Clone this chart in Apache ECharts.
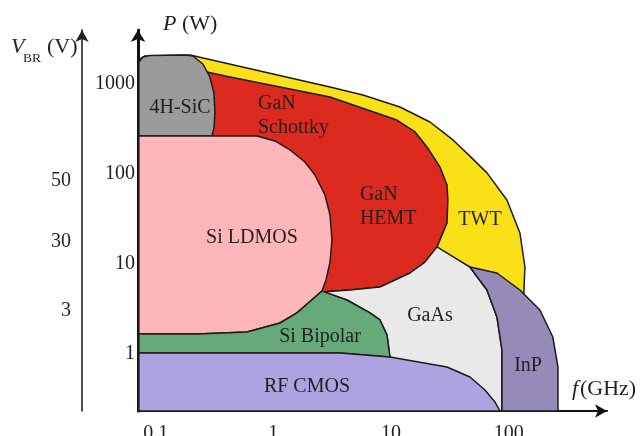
<!DOCTYPE html>
<html>
<head>
<meta charset="utf-8">
<script src="https://cdn.jsdelivr.net/npm/echarts@6/dist/echarts.min.js"></script>
<style>
  html, body { margin: 0; padding: 0; background: #fff; }
  #chart { width: 641px; height: 436px; }
</style>
</head>
<body>
<div id="chart"></div>
<script>
// tick labels
const fTicks = [0.1, 1, 10, 100]
const pTicks = [1, 10, 100, 1000]
const vbrTicks = ['50', '30', '3']
const vbrOnP = [84, 17.5, 3.0] // P value at which each V_BR tick sits

// region outlines, [f (GHz), P (W)]
const twt = [[0.081, 2047], [0.196, 2100], [0.77, 1393], [3.03, 926], [5.77, 755], [11.9, 555], [21.4, 378], [33.6, 239], [46.8, 158], [65.3, 103], [96.5, 51.4], [124.5, 22.1], [137.3, 9.26], [134.6, 5.14], [134.6, 0.2326], [0.072, 0.2326], [0.072, 1848]]
const gan = [[0.273, 1359], [0.428, 1196], [1.14, 926], [3.03, 717], [11.2, 398], [16.0, 293], [20.2, 200], [26.0, 120], [29.9, 75.5], [30.4, 51.4], [29.9, 28.6], [24.6, 15.5], [19.4, 10.5], [14.5, 7.94], [8.05, 5.55], [4.48, 5.14], [2.59, 4.89], [1.68, 14.3], [0.633, 143], [0.238, 239], [0.238, 1108]]
const gaas = [[2.59, 4.89], [4.48, 5.14], [8.05, 5.55], [14.5, 7.94], [19.4, 10.5], [24.6, 15.5], [34.9, 11.7], [46.8, 9.26], [65.3, 5.14], [79.4, 2.58], [87.6, 1.108], [87.6, 0.2326], [9.79, 0.2326], [9.79, 0.926], [9.23, 1.63], [8.05, 2.39], [6.62, 2.86], [4.22, 3.98]]
const inp = [[46.8, 9.26], [79.4, 7.94], [124.5, 5.14], [184, 3.08], [237, 1.545], [262, 0.717], [262, 0.2326], [87.6, 0.2326], [87.6, 1.108], [79.4, 2.58], [65.3, 5.14]]
const sic = [[0.072, 264], [0.072, 1756], [0.078, 1995], [0.0894, 2074], [0.1774, 2100], [0.207, 2047], [0.252, 1668], [0.289, 1196], [0.313, 794], [0.319, 476], [0.313, 324], [0.301, 264]]
const ldmos = [[0.072, 264], [0.7255, 264], [1.03, 233], [1.384, 185], [1.855, 136], [2.256, 97.5], [2.745, 58.4], [3.03, 35.0], [3.15, 18.5], [3.03, 10.5], [2.80, 6.64], [2.59, 5.01], [1.587, 2.86], [1.138, 2.21], [0.597, 1.76], [0.224, 1.67], [0.072, 1.67]]
const bipolar = [[0.072, 1.67], [0.224, 1.67], [0.597, 1.76], [1.138, 2.21], [1.587, 2.86], [2.59, 5.01], [4.22, 3.98], [6.62, 2.86], [8.05, 2.39], [9.23, 1.63], [9.79, 0.926], [3.68, 1.026], [0.072, 1.026]]
const cmos = [[0.072, 1.026], [3.68, 1.026], [9.79, 0.926], [29.9, 0.717], [46.8, 0.555], [62.8, 0.398], [76.3, 0.293], [84.2, 0.2326], [0.072, 0.2326]]

const regionNames = ['TWT', 'GaN', 'GaAs', 'InP', '4H-SiC', 'Si LDMOS', 'Si Bipolar', 'RF CMOS']
const outlines = [twt, gan, gaas, inp, sic, ldmos, bipolar, cmos]

// region labels and where they sit, [f, P]
const labelTexts = ['TWT', 'GaN\nSchottky', 'GaN\nHEMT', 'GaAs', 'InP', '4H-SiC', 'Si LDMOS', 'Si Bipolar', 'RF CMOS']
const labelAt = [[57, 30.8], [0.74, 441], [5.44, 43.5], [21.4, 2.64], [146, 0.736], [0.161, 541], [0.658, 19.4], [2.49, 1.545], [1.93, 0.43]]

const fills = ['#f9e017', '#dc2b1e', '#e9e9e9', '#958ab8', '#9b9b9b', '#ffb6ba', '#66aa7a', '#aea2e0']
const textColor = '#231f20'
const serif = '"Liberation Serif", "DejaVu Serif", serif'

const lg = (v) => Math.log10(v)
const pick = (ticks, labels, v) => {
  const i = ticks.findIndex((t) => Math.abs(lg(t) - v) < 1e-6)
  return i < 0 ? '' : String(labels[i])
}

const chart = echarts.init(document.getElementById('chart'))

const option = {
  animation: false,
  grid: {
    left: 138,
    right: 34,
    top: 30,
    bottom: 25,
    containLabel: false,
    outerBoundsMode: 'none',
  },
  xAxis: {
    type: 'value',
    min: -1.15,
    max: 2.835,
    axisLine: {
      show: true,
      onZero: false,
      symbol: ['none', 'arrow'],
      symbolSize: [10, 12],
      lineStyle: { color: '#111', width: 2 },
    },
    axisTick: { show: false },
    splitLine: { show: false },
    axisLabel: {
      customValues: fTicks.map(lg),
      formatter: (v) => pick(fTicks, fTicks, v),
      margin: 13,
      fontFamily: serif,
      fontSize: 20,
      color: textColor,
    },
  },
  yAxis: [
    {
      type: 'value',
      min: -0.6333,
      max: 3.6,
      axisLine: {
        show: true,
        onZero: false,
        symbol: ['none', 'arrow'],
        symbolSize: [11, 12],
        lineStyle: { color: '#111', width: 3 },
      },
      axisTick: { show: false },
      splitLine: { show: false },
      axisLabel: {
        customValues: pTicks.map(lg),
        formatter: (v) => pick(pTicks, pTicks, v),
        margin: 3,
        fontFamily: serif,
        fontSize: 20,
        color: textColor,
      },
    },
    {
      type: 'value',
      position: 'left',
      offset: 56,
      min: -0.6333,
      max: 3.6,
      axisLine: {
        show: true,
        onZero: false,
        symbol: ['none', 'arrow'],
        symbolSize: [10, 12],
        lineStyle: { color: '#222', width: 1.6 },
      },
      axisTick: { show: false },
      splitLine: { show: false },
      axisLabel: {
        customValues: vbrOnP.map(lg),
        formatter: (v) => pick(vbrOnP, vbrTicks, v),
        margin: 11,
        fontFamily: serif,
        fontSize: 20,
        color: textColor,
      },
    },
  ],
  graphic: [
    { type: 'text', x: 163, y: 24, style: { text: 'P', fontStyle: 'italic', fontSize: 22, fontFamily: serif, fill: textColor, verticalAlign: 'middle' } },
    { type: 'text', x: 182, y: 24, style: { text: '(W)', fontSize: 22, fontFamily: serif, fill: textColor, verticalAlign: 'middle' } },
    { type: 'text', x: 11, y: 47, style: { text: 'V', fontStyle: 'italic', fontSize: 22, fontFamily: serif, fill: textColor, verticalAlign: 'middle' } },
    { type: 'text', x: 23, y: 58, style: { text: 'BR', fontSize: 13.5, fontFamily: serif, fill: textColor, verticalAlign: 'middle' } },
    { type: 'text', x: 47, y: 47, style: { text: '(V)', fontSize: 22, fontFamily: serif, fill: textColor, verticalAlign: 'middle' } },
    { type: 'text', x: 572, y: 389, style: { text: 'f', fontStyle: 'italic', fontSize: 22, fontFamily: serif, fill: textColor, verticalAlign: 'middle' } },
    { type: 'text', x: 580, y: 389, style: { text: '(GHz)', fontSize: 22, fontFamily: serif, fill: textColor, verticalAlign: 'middle' } },
  ],
  series: [
    {
      name: 'regions',
      type: 'custom',
      coordinateSystem: 'cartesian2d',
      z: 2,
      data: regionNames.map((name, i) => ({ name, value: [lg(outlines[i][0][0]), lg(outlines[i][0][1])] })),
      renderItem: (params, api) => ({
        type: 'polygon',
        shape: {
          points: outlines[params.dataIndex].map((pt) => api.coord([lg(pt[0]), lg(pt[1])])),
        },
        style: {
          fill: fills[params.dataIndex],
          stroke: '#1b1b1b',
          lineWidth: 1.5,
          lineJoin: 'round',
        },
      }),
    },
    {
      name: 'labels',
      type: 'custom',
      coordinateSystem: 'cartesian2d',
      z: 3,
      data: labelAt.map((p, i) => ({ name: labelTexts[i], value: [lg(p[0]), lg(p[1])] })),
      renderItem: (params, api) => {
        const pt = api.coord([api.value(0), api.value(1)])
        const text = labelTexts[params.dataIndex]
        return {
          type: 'text',
          x: pt[0],
          y: pt[1],
          style: {
            text,
            fill: textColor,
            fontSize: 20,
            fontFamily: serif,
            align: text.includes('\n') ? 'left' : 'center',
            verticalAlign: 'middle',
            lineHeight: 24,
          },
        }
      },
    },
  ],
}

chart.setOption(option)
</script>
</body>
</html>
